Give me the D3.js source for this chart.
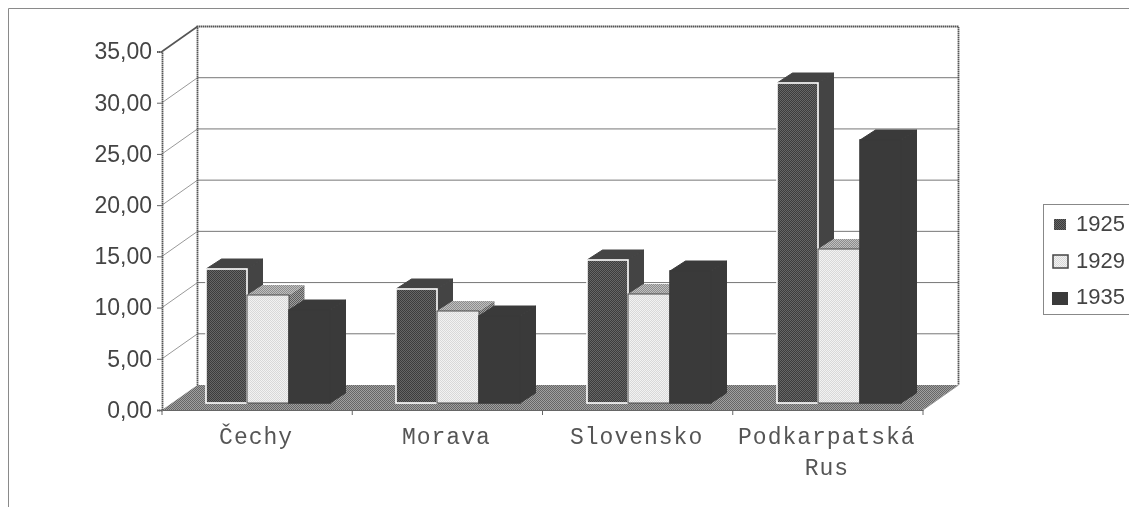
<!DOCTYPE html>
<html>
<head>
<meta charset="utf-8">
<script src="https://cdn.jsdelivr.net/npm/d3@7"></script>
<style>
html, body { margin: 0; padding: 0; background: #fff; overflow: hidden; }
svg { display: block; filter: blur(0.35px); }
</style>
</head>
<body>
<div id="chart"></div>
<script>
// values
var categories = ["Čechy", "Morava", "Slovensko", "Podkarpatská Rus"];
var years = ["1925", "1929", "1935"];
var values1925 = [13.1, 11.1, 14.0, 31.2];
var values1929 = [10.5, 9.0, 10.6, 15.0];
var values1935 = [9.1, 8.5, 12.9, 25.7];
var yTicks = [0, 5, 10, 15, 20, 25, 30, 35];

var series = [values1925, values1929, values1935];

var fullWidth = 1129, fullHeight = 507;
var depthX = 35.5, depthY = 25;     // floor depth of the 3d box
var barDepthX = 15.5, barDepthY = 10; // depth of one bar
var barLift = 7;                    // bars stand a little behind the front edge

var svg = d3.select("#chart").append("svg")
    .attr("width", fullWidth)
    .attr("height", fullHeight);

// halftone fills, the scan of the original is stippled
var defs = svg.append("defs");
function stipple(id, light, dark) {
    var p = defs.append("pattern")
        .attr("id", id)
        .attr("width", 2).attr("height", 2)
        .attr("patternUnits", "userSpaceOnUse");
    p.append("rect").attr("width", 2).attr("height", 2).attr("fill", light);
    p.append("rect").attr("width", 1).attr("height", 1).attr("fill", dark);
    p.append("rect").attr("x", 1).attr("y", 1).attr("width", 1).attr("height", 1).attr("fill", dark);
}
stipple("s1925", "#666", "#3c3c3c");
stipple("s1929", "#f2f2f2", "#d8d8d8");
stipple("sFloor", "#a0a0a0", "#666");
stipple("sTop2", "#c0c0c0", "#8c8c8c");
stipple("sSide2", "#a0a0a0", "#5c5c5c");

var x0 = d3.scaleBand().domain(categories).range([162, 923]);
var x1 = d3.scaleBand().domain(years).range([44, 168]);
var y = d3.scaleLinear().domain([0, 35]).range([410, 51.5]);

function poly(pts) { return pts.map(function(p) { return p.join(","); }).join(" "); }

// outer frame, cut off by the picture on the right and bottom
svg.append("path")
    .attr("d", "M8.5,507V8.5H1129")
    .attr("fill", "none").attr("stroke", "#8a8a8a").attr("stroke-width", 1);

// grid on the back and side walls
var grid = svg.append("g");
grid.selectAll("line.back")
    .data(yTicks.filter(function(d) { return d > 0 && d < 35; }))
    .enter().append("line")
    .attr("x1", 162 + depthX).attr("x2", 923 + depthX)
    .attr("y1", function(d) { return y(d) - depthY; })
    .attr("y2", function(d) { return y(d) - depthY; })
    .attr("stroke", "#777").attr("stroke-width", 1);
grid.selectAll("line.side")
    .data(yTicks.filter(function(d) { return d > 0; }))
    .enter().append("line")
    .attr("x1", 162).attr("x2", 162 + depthX)
    .attr("y1", function(d) { return y(d); })
    .attr("y2", function(d) { return y(d) - depthY; })
    .attr("stroke", function(d) { return d == 35 ? "#555" : "#999"; })
    .attr("stroke-width", function(d) { return d == 35 ? 1.6 : 1; });

// floor
svg.append("polygon")
    .attr("points", poly([[162, y(0)], [162 + depthX, y(0) - depthY], [923 + depthX, y(0) - depthY], [923, y(0)]]))
    .attr("fill", "url(#sFloor)");

// wall borders
svg.append("path")
    .attr("d", "M" + (162 + depthX) + "," + (y(0) - depthY) + "V" + (y(35) - depthY) + "H" + (923 + depthX) + "V" + (y(0) - depthY))
    .attr("fill", "none").attr("stroke", "#555").attr("stroke-width", 1.8).attr("stroke-dasharray", "1.5 0.5");
svg.append("line")
    .attr("x1", 923).attr("y1", y(0)).attr("x2", 923 + depthX).attr("y2", y(0) - depthY)
    .attr("stroke", "#999");

// bars, one category at a time, back to front
var barStyle = {
    "1925": { front: "url(#s1925)", top: "#444", side: "#444", seam: "#444", edge: "#fff" },
    "1929": { front: "url(#s1929)", top: "url(#sTop2)", side: "url(#sSide2)", seam: "none", edge: "#4a4a4a" },
    "1935": { front: "#3a3a3a", top: "#3a3a3a", side: "#3a3a3a", seam: "#3a3a3a", edge: "#3a3a3a" }
};
categories.forEach(function(cat, c) {
    // whole pixels so the stipple stays even in every group
    var g = svg.append("g").attr("transform", "translate(" + Math.round(x0(cat)) + ",0)");
    years.forEach(function(yr, s) {
        var st = barStyle[yr];
        var l = Math.round(x1(yr)), r = Math.round(x1(yr) + x1.bandwidth());
        var b = Math.round(y(0) - barLift), t = Math.round(y(series[s][c]) - barLift);
        g.append("polygon")
            .attr("points", poly([[r, t], [r + barDepthX, t - barDepthY], [r + barDepthX, b - barDepthY], [r, b]]))
            .attr("fill", st.side).attr("stroke", st.seam);
        g.append("polygon")
            .attr("points", poly([[l, t], [l + barDepthX, t - barDepthY], [r + barDepthX, t - barDepthY], [r, t]]))
            .attr("fill", st.top).attr("stroke", st.seam);
        g.append("rect")
            .attr("x", l).attr("y", t)
            .attr("width", r - l).attr("height", b - t)
            .attr("fill", st.front)
            .attr("stroke", st.edge)
            .attr("stroke-width", yr == "1929" ? 1 : 1.6);
    });
});

// value axis
var yAxis = d3.axisLeft(y)
    .tickValues(yTicks)
    .tickSize(5)
    .tickPadding(5)
    .tickFormat(function(d) { return d3.format(".2f")(d).replace(".", ","); });
var yG = svg.append("g").attr("transform", "translate(162,0)").call(yAxis);
yG.select(".domain").attr("stroke", "#555").attr("stroke-width", 1.8).attr("stroke-dasharray", "1.5 0.5");
yG.selectAll(".tick line").attr("stroke", "#666");
yG.selectAll("text")
    .attr("font-family", "'Liberation Sans', Arial, sans-serif")
    .attr("font-size", 23)
    .attr("fill", "#444");

// category axis
var xAxis = d3.axisBottom(x0).tickSize(0).tickPadding(0).tickFormat("");
var xG = svg.append("g").attr("transform", "translate(0," + y(0) + ")").call(xAxis);
xG.select(".domain").attr("stroke", "#666");
xG.selectAll(".sep")
    .data(x0.domain().map(function(d) { return x0(d); }).concat([x0.range()[1]]))
    .enter().append("line")
    .attr("class", "sep")
    .attr("x1", function(d) { return d; }).attr("x2", function(d) { return d; })
    .attr("y1", 0).attr("y2", 5)
    .attr("stroke", "#666");

var labels = svg.append("g")
    .attr("font-family", "'Liberation Mono', 'Courier New', monospace")
    .attr("font-size", 23)
    .attr("letter-spacing", 1)
    .attr("fill", "#555")
    .attr("text-anchor", "middle");
categories.forEach(function(cat) {
    var cx = x0(cat) + x0.bandwidth() / 2 - 1;
    var words = cat.split(" ");
    words.forEach(function(w, i) {
        labels.append("text").attr("x", cx).attr("y", 444 + i * 31).text(w);
    });
});

// legend
var legend = svg.append("g");
legend.append("rect")
    .attr("x", 1043.5).attr("y", 204.5).attr("width", 100).attr("height", 110)
    .attr("fill", "#fff").attr("stroke", "#888");
var legendSwatch = {
    "1925": { x: 1054, y: 219, w: 12, h: 11, fill: "url(#s1925)", stroke: "none" },
    "1929": { x: 1053, y: 255, w: 15, h: 13, fill: "url(#s1929)", stroke: "#444" },
    "1935": { x: 1052, y: 292, w: 16, h: 13, fill: "#3a3a3a", stroke: "none" }
};
years.forEach(function(yr, i) {
    var k = legendSwatch[yr];
    legend.append("rect")
        .attr("x", k.x).attr("y", k.y).attr("width", k.w).attr("height", k.h)
        .attr("fill", k.fill).attr("stroke", k.stroke).attr("stroke-width", 1.5);
    legend.append("text")
        .attr("x", 1076).attr("y", 231 + i * 36.5)
        .attr("font-family", "'Liberation Sans', Arial, sans-serif")
        .attr("font-size", 22)
        .attr("fill", "#444")
        .text(yr);
});
</script>
</body>
</html>
